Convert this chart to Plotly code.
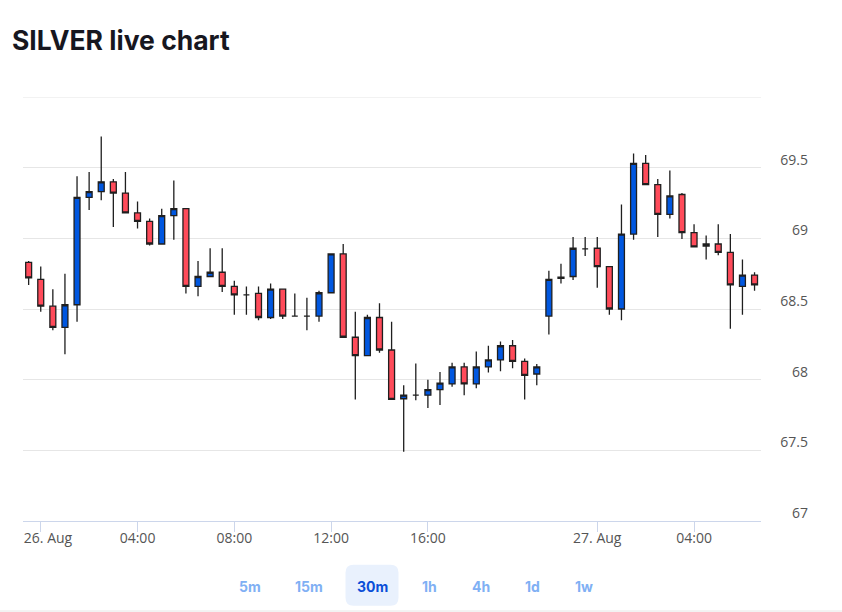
import plotly.graph_objects as go

# 30m candles, silver, 25 Aug 23:30 -> 27 Aug 06:30 (market closed 21:00-22:00)
times = [
    "2024-08-25 23:30",
    "2024-08-26 00:00", "2024-08-26 00:30", "2024-08-26 01:00", "2024-08-26 01:30",
    "2024-08-26 02:00", "2024-08-26 02:30", "2024-08-26 03:00", "2024-08-26 03:30",
    "2024-08-26 04:00", "2024-08-26 04:30", "2024-08-26 05:00", "2024-08-26 05:30",
    "2024-08-26 06:00", "2024-08-26 06:30", "2024-08-26 07:00", "2024-08-26 07:30",
    "2024-08-26 08:00", "2024-08-26 08:30", "2024-08-26 09:00", "2024-08-26 09:30",
    "2024-08-26 10:00", "2024-08-26 10:30", "2024-08-26 11:00", "2024-08-26 11:30",
    "2024-08-26 12:00", "2024-08-26 12:30", "2024-08-26 13:00", "2024-08-26 13:30",
    "2024-08-26 14:00", "2024-08-26 14:30", "2024-08-26 15:00", "2024-08-26 15:30",
    "2024-08-26 16:00", "2024-08-26 16:30", "2024-08-26 17:00", "2024-08-26 17:30",
    "2024-08-26 18:00", "2024-08-26 18:30", "2024-08-26 19:00", "2024-08-26 19:30",
    "2024-08-26 20:00", "2024-08-26 20:30",
    "2024-08-26 22:00", "2024-08-26 22:30", "2024-08-26 23:00", "2024-08-26 23:30",
    "2024-08-27 00:00", "2024-08-27 00:30", "2024-08-27 01:00", "2024-08-27 01:30",
    "2024-08-27 02:00", "2024-08-27 02:30", "2024-08-27 03:00", "2024-08-27 03:30",
    "2024-08-27 04:00", "2024-08-27 04:30", "2024-08-27 05:00", "2024-08-27 05:30",
    "2024-08-27 06:00", "2024-08-27 06:30",
]
opens = [
    68.83,
    68.71, 68.52, 68.37, 68.53, 69.29, 69.33, 69.40, 69.32,
    69.18, 69.12, 68.96, 69.16, 69.21, 68.66, 68.73, 68.76,
    68.66, 68.60, 68.61, 68.44, 68.64, 68.45, 68.45, 68.45,
    68.615, 68.89, 68.30, 68.17, 68.44, 68.21, 67.865, 67.89,
    67.89, 67.93, 67.97, 68.09, 67.97, 68.09, 68.14, 68.24,
    68.13, 68.04,
    68.45, 68.717, 68.73, 68.925,
    68.93, 68.80, 68.50, 69.03, 69.53, 69.38, 69.17, 69.31,
    69.04, 68.945, 68.96, 68.90, 68.66, 68.74,
]
highs = [
    68.84,
    68.80, 68.64, 68.75, 69.44, 69.47, 69.72, 69.42, 69.47,
    69.26, 69.14, 69.21, 69.41, 69.21, 68.84, 68.93, 68.93,
    68.70, 68.66, 68.66, 68.68, 68.64, 68.61, 68.58, 68.63,
    68.89, 68.96, 68.48, 68.46, 68.54, 68.41, 67.96, 68.115,
    68.00, 68.055, 68.12, 68.12, 68.20, 68.24, 68.27, 68.28,
    68.15, 68.11,
    68.77, 68.82, 69.01, 69.01,
    69.01, 68.80, 69.24, 69.60, 69.59, 69.42, 69.48, 69.32,
    69.10, 69.02, 69.10, 69.03, 68.85, 68.76,
]
lows = [
    68.67,
    68.48, 68.35, 68.18, 68.41, 69.20, 69.27, 69.08, 69.18,
    69.07, 68.95, 68.96, 68.99, 68.61, 68.59, 68.73, 68.62,
    68.46, 68.46, 68.42, 68.43, 68.43, 68.45, 68.35, 68.41,
    68.615, 68.30, 67.86, 68.17, 68.19, 67.86, 67.49, 67.855,
    67.80, 67.82, 67.95, 67.89, 67.94, 68.05, 68.06, 68.08,
    67.86, 67.96,
    68.32, 68.68, 68.705, 68.875,
    68.65, 68.46, 68.42, 68.99, 69.38, 69.01, 69.14, 68.995,
    68.94, 68.85, 68.88, 68.36, 68.46, 68.63,
]
closes = [
    68.72,
    68.52, 68.37, 68.53, 69.29, 69.33, 69.40, 69.32, 69.18,
    69.12, 68.96, 69.16, 69.21, 68.66, 68.73, 68.76, 68.66,
    68.60, 68.60, 68.44, 68.64, 68.45, 68.45, 68.45, 68.615,
    68.89, 68.30, 68.17, 68.44, 68.21, 67.86, 67.89, 67.89,
    67.93, 67.975, 68.09, 67.97, 68.09, 68.14, 68.24, 68.13,
    68.03, 68.09,
    68.71, 68.726, 68.93, 68.925,
    68.80, 68.50, 69.03, 69.53, 69.38, 69.17, 69.30, 69.04,
    68.94, 68.96, 68.90, 68.67, 68.74, 68.67,
]

time_ticks = ["2024-08-26 00:00", "2024-08-26 04:00", "2024-08-26 08:00", "2024-08-26 12:00",
              "2024-08-26 16:00", "2024-08-27 00:00", "2024-08-27 04:00"]
# first label is pushed right so it starts at the plot edge (nbsp padding)
time_labels = ["\u00a0\u00a0\u00a0\u00a026. Aug", "04:00", "08:00", "12:00", "16:00", "27. Aug", "04:00"]
price_ticks = [67, 67.5, 68, 68.5, 69, 69.5]
price_labels = ["67", "67.5", "68", "68.5", "69", "69.5"]
price_max = 70
intervals = ["5m", "15m", "30m", "1h", "4h", "1d", "1w"]
selected = "30m"

# page geometry (pixels)
W, H = 842, 612
LEFT, RIGHT, TOP, BOTTOM = 23, 761, 97, 521
PAPER_W = W - LEFT
PAPER_H = BOTTOM - TOP
X_END = (RIGHT - LEFT) / PAPER_W


def px_x(x):
    return (x - LEFT) / PAPER_W


def px_y(y):
    return (BOTTOM - y) / PAPER_H


fig = go.Figure()
fig.add_trace(go.Candlestick(
    x=times, open=opens, high=highs, low=lows, close=closes,
    increasing=dict(fillcolor="#0057e0", line=dict(color="#1f1f1f", width=1.3)),
    decreasing=dict(fillcolor="#ff4b5a", line=dict(color="#1f1f1f", width=1.3)),
    whiskerwidth=0,
    showlegend=False,
    hoverinfo="skip",
))

fig.update_layout(
    width=W, height=H,
    margin=dict(l=LEFT, r=0, t=TOP, b=H - BOTTOM),
    paper_bgcolor="white", plot_bgcolor="white",
    font=dict(family="Open Sans", size=14, color="#555555"),
    title=dict(text="SILVER live chart", x=12 / W, xref="container", xanchor="left",
               y=1 - 41 / H, yref="container", yanchor="middle",
               font=dict(family="Inter", size=26.5, color="#17171f", weight=700)),
    xaxis=dict(
        domain=[0, X_END],
        range=["2024-08-25 23:16", "2024-08-27 06:46"],
        rangebreaks=[dict(bounds=[21, 22], pattern="hour")],
        rangeslider=dict(visible=False),
        tickvals=time_ticks, ticktext=time_labels,
        ticks="outside", ticklen=10, tickcolor="#ccd6eb",
        ticklabelstandoff=-6,
        showline=True, linecolor="#ccd6eb", linewidth=1,
        showgrid=False, zeroline=False,
        tickfont=dict(family="Open Sans", size=14, color="#555555"),
    ),
    yaxis=dict(
        range=[67, price_max], tickvals=price_ticks, ticktext=price_labels,
        showgrid=True, gridcolor="#e6e6e6", zeroline=False, fixedrange=True,
        side="left", anchor="free", position=px_x(808), ticks="",
        ticklabelshift=-8, showline=False,
        tickfont=dict(family="Open Sans", size=14, color="#555555"),
    ),
)

# top gridline sits on the range edge, where plotly drops it
fig.add_shape(type="line", xref="paper", yref="y", x0=0, x1=X_END,
              y0=price_max, y1=price_max, line=dict(color="#e6e6e6", width=1), layer="below")

# interval buttons under the chart
button_x = [250, 308.5, 372, 429, 480.5, 532, 583.5]
for label, bx in zip(intervals, button_x):
    on = label == selected
    if on:
        fig.add_shape(type="path", xref="paper", yref="paper",
                      xsizemode="pixel", ysizemode="pixel",
                      xanchor=px_x(bx), yanchor=px_y(585.3),
                      path="M -18.5 -20.5 L 18.5 -20.5 Q 26.5 -20.5 26.5 -12.5 L 26.5 12.5 "
                           "Q 26.5 20.5 18.5 20.5 L -18.5 20.5 Q -26.5 20.5 -26.5 12.5 "
                           "L -26.5 -12.5 Q -26.5 -20.5 -18.5 -20.5 Z",
                      fillcolor="#e9f1fd", line=dict(width=0), layer="below")
    fig.add_annotation(text=label, x=px_x(bx), y=px_y(586), xref="paper", yref="paper",
                       xanchor="center", yanchor="middle", showarrow=False,
                       font=dict(family="Inter", size=14, weight=700,
                                 color="#0a4fd8" if on else "#80b0f4"))

# thin rule at the bottom edge of the widget
fig.add_shape(type="line", xref="paper", yref="paper",
              x0=px_x(0), x1=px_x(W), y0=px_y(611), y1=px_y(611),
              line=dict(color="#e6e6e6", width=1))

# page opens with the browser's default 8px body margin; drop it
fig.write_html("out.html", config={"displayModeBar": False},
               post_script="document.body.style.margin='0';")
